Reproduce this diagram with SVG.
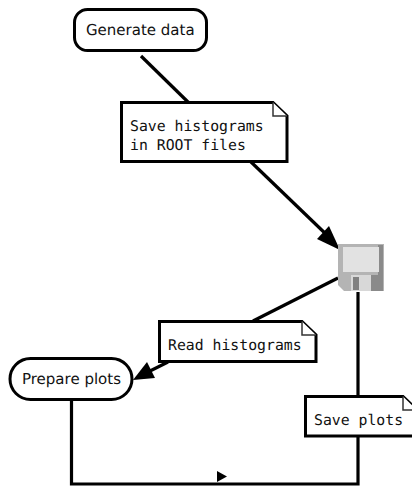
<svg xmlns="http://www.w3.org/2000/svg" width="412" height="486" viewBox="0 0 412 486">
<style>
.shape{fill:#fff;stroke:#000;stroke-width:3}
.fold{fill:#fff;stroke:#333;stroke-width:1.5}
.line{fill:none;stroke:#000;stroke-width:3.2}
text{fill:#111;text-rendering:geometricPrecision}
.sans{font-family:"DejaVu Sans",sans-serif;font-size:15px}
.mono{font-family:"DejaVu Sans Mono",monospace;font-size:14.8px}
</style>
<rect width="412" height="486" fill="#fff"/>
<g id="connectors">
<path class="line" d="M141 56L189 103"/>
<path class="line" d="M250 161L330 238"/>
<polygon points="340,250 317,239 329,226"/>
<path class="line" d="M338 278L253 321"/>
<path class="line" d="M168 362L150 371"/>
<polygon points="133,380 147,362 155,378"/>
<path class="line" d="M358 292V396M358 436V484H71.500V400"/>
<polygon points="217,471 227,476.500 217,482"/>
</g>
<g id="generate-data">
<rect class="shape" x="74.500" y="9.500" width="132" height="41" rx="13"/>
<text class="sans" x="86" y="35">Generate data</text>
</g>
<g id="save-histograms">
<path class="shape" d="M121.500 102.500H273L287 116V161.500H121.500Z"/>
<path class="fold" d="M273 102.500V116H287"/>
<text class="mono" x="130" y="131">Save histograms</text>
<text class="mono" x="130" y="150">in ROOT files</text>
</g>
<g id="disk">
<path d="M338 244H384V291H344L338 285Z" fill="#b4b4b4"/>
<rect x="378" y="245" width="5" height="46" fill="#8a8a8a"/>
<rect x="343" y="247" width="36" height="25" fill="#e2e2e2"/>
<rect x="351" y="275" width="20" height="16" fill="#d8d8d8"/>
<rect x="353" y="277" width="6" height="13" fill="#808080"/>
<rect x="371" y="275" width="7" height="16" fill="#8a8a8a"/>
</g>
<g id="read-histograms">
<path class="shape" d="M159.500 321.500H302L316 335V361.500H159.500Z"/>
<path class="fold" d="M302 321.500V335H316"/>
<text class="mono" x="168" y="350">Read histograms</text>
</g>
<g id="prepare-plots">
<rect class="shape" x="10" y="358.500" width="122" height="41" rx="20.500"/>
<text class="sans" x="22" y="384">Prepare plots</text>
</g>
<g id="save-plots">
<path class="shape" d="M305.500 396.500H403L417 410V436H305.500Z"/>
<path class="fold" d="M403 396.500V410H417"/>
<text class="mono" x="314" y="425">Save plots</text>
</g>
</svg>
